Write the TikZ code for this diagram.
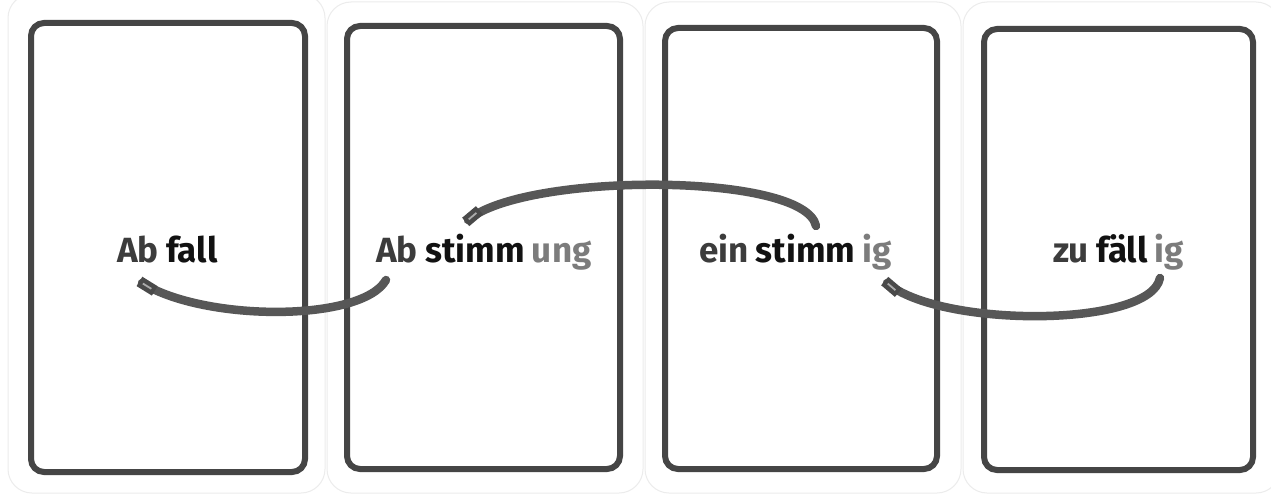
\documentclass[tikz,border=0pt]{standalone}
\usepackage{fontspec}
\setmainfont{Fira Sans}
\usetikzlibrary{calc}
\definecolor{frame}{HTML}{454545}
\definecolor{pre}{HTML}{3C3C3C}
\definecolor{stem}{HTML}{121212}
\definecolor{suf}{HTML}{7C7C7C}
\definecolor{link}{HTML}{575757}
\definecolor{edge}{HTML}{ECECEC}
\tikzset{
  cardedge/.style={draw=edge, line width=1pt, rounded corners=24pt},
  cardframe/.style={draw=frame, line width=6pt, rounded corners=13pt},
  wpart/.style={anchor=base west, inner sep=0pt, font=\fontsize{35}{40}\selectfont\bfseries},
  wpre/.style={wpart, text=pre},
  wstem/.style={wpart, text=stem},
  wsuf/.style={wpart, text=suf},
  linkline/.style={draw=link, line width=8.5pt, line cap=round},
  tabend/.style={draw=link!85!black, line width=11pt},
  tabshine/.style={draw=link!50!white, line width=1.8pt},
}
\begin{document}
\begin{tikzpicture}[x=1pt,y=-1pt]
\useasboundingbox (0,0) rectangle (1271,495);
\fill[white] (0,0) rectangle (1271,495);

% card blanks
\draw[cardedge] (8,-6) rectangle (325,493);
\draw[cardedge] (327,2) rectangle (643,493);
\draw[cardedge] (645,2) rectangle (961,493);
\draw[cardedge] (963,2) rectangle (1280,493);

% printed frames
\draw[cardframe] (31,23) rectangle (305,472);
\draw[cardframe] (347,26) rectangle (620,469);
\draw[cardframe] (665,28) rectangle (937,469);
\draw[cardframe] (984,29) rectangle (1253,470);

% words, split into prefix / stem / suffix
\node[wpre]  (w1a) at (117,262) {Ab};
\node[wstem] (w1b) at ([xshift=7pt]w1a.base east) {fall};

\node[wpre]  (w2a) at (376,262) {Ab};
\node[wstem] (w2b) at ([xshift=7pt]w2a.base east) {stimm};
\node[wsuf]  (w2c) at ([xshift=7pt]w2b.base east) {ung};

\node[wpre]  (w3a) at (699,262) {ein};
\node[wstem] (w3b) at ([xshift=7pt]w3a.base east) {stimm};
\node[wsuf]  (w3c) at ([xshift=7pt]w3b.base east) {ig};

\node[wpre]  (w4a) at (1053,262) {zu};
\node[wstem] (w4b) at ([xshift=7pt]w4a.base east) {fäll};
\node[wsuf]  (w4c) at ([xshift=7pt]w4b.base east) {ig};

% link ends
\coordinate (l1s) at (142,283);
\coordinate (l1e) at (386,280);
\coordinate (l2s) at (468,220);
\coordinate (l2e) at (816,226);
\coordinate (l3s) at (887,283);
\coordinate (l3e) at (1160,278);

% links between the cards, each with a square tab at its start
\draw[linkline] (l1s) .. controls (205,322) and (362,322) .. (l1e);
\draw[tabend] ($(l1s)!-3pt!(205,322)$) -- ($(l1s)!15pt!(205,322)$);
\draw[tabshine] ($(l1s)!1pt!(205,322)$) -- ($(l1s)!11pt!(205,322)$);

\draw[linkline] (l2s) .. controls (525,172) and (805,172) .. (l2e);
\draw[tabend] ($(l2s)!-3pt!(525,172)$) -- ($(l2s)!15pt!(525,172)$);
\draw[tabshine] ($(l2s)!1pt!(525,172)$) -- ($(l2s)!11pt!(525,172)$);

\draw[linkline] (l3s) .. controls (940,328) and (1150,328) .. (l3e);
\draw[tabend] ($(l3s)!-3pt!(940,328)$) -- ($(l3s)!15pt!(940,328)$);
\draw[tabshine] ($(l3s)!1pt!(940,328)$) -- ($(l3s)!11pt!(940,328)$);
\end{tikzpicture}
\end{document}
